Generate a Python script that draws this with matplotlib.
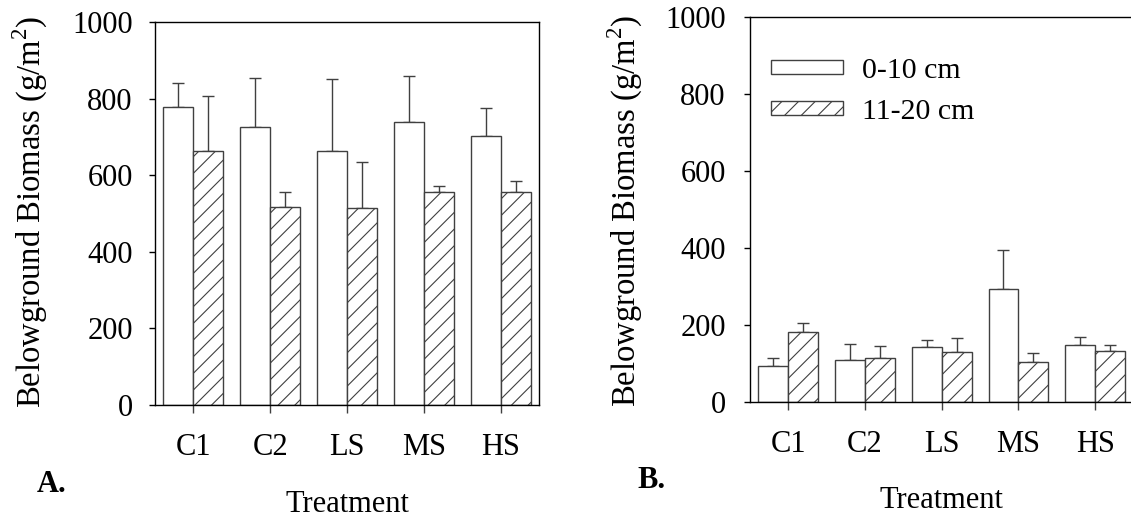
import numpy as np
import matplotlib
matplotlib.use("Agg")
import matplotlib.pyplot as plt

plt.rcParams['font.family'] = ['Liberation Serif', 'DejaVu Serif']
plt.rcParams['mathtext.fontset'] = 'custom'
plt.rcParams['mathtext.rm'] = 'Liberation Serif'
plt.rcParams['hatch.linewidth'] = 0.8
plt.rcParams['hatch.color'] = 'black'

# data
treatments = ['C1', 'C2', 'LS', 'MS', 'HS']
depths = ['0-10 cm', '11-20 cm']

a_top = [778, 726, 662, 738, 703]
a_top_err = [63, 128, 190, 121, 73]
a_sub = [662, 518, 514, 555, 555]
a_sub_err = [144, 39, 120, 18, 29]

b_top = [94, 109, 142, 294, 149]
b_top_err = [19, 42, 20, 101, 19]
b_sub = [181, 114, 129, 104, 133]
b_sub_err = [23, 32, 38, 23, 14]

W, H = 1131, 525
fig = plt.figure(figsize=(W / 100, H / 100), dpi=100)
edge = '#404040'
fs = 22


def panel(rect, top, top_err, sub, sub_err, ypad):
    ax = fig.add_axes(rect)
    x = np.arange(len(treatments))
    w = 0.39
    ax.bar(x - w / 2, top, w, color='white', edgecolor=edge, linewidth=1.0,
           label=depths[0], zorder=2)
    ax.bar(x + w / 2, sub, w, color='white', edgecolor=edge, linewidth=1.0,
           hatch='//', label=depths[1], zorder=2)
    ax.errorbar(x - w / 2, top, yerr=[np.zeros(len(x)), top_err], fmt='none',
                ecolor=edge, elinewidth=1.0, capsize=4, capthick=1.0, zorder=1)
    ax.errorbar(x + w / 2, sub, yerr=[np.zeros(len(x)), sub_err], fmt='none',
                ecolor=edge, elinewidth=1.0, capsize=4, capthick=1.0, zorder=1)
    ax.set_xlim(-0.5, 4.5)
    ax.set_ylim(0, 1000)
    ax.set_yticks([0, 200, 400, 600, 800, 1000])
    ax.set_xticks(x)
    ax.set_xticklabels(treatments)
    ax.tick_params(axis='y', direction='out', length=4, width=1, pad=ypad, labelsize=fs)
    ax.tick_params(axis='x', direction='out', length=6, width=1, pad=14.5, labelsize=fs,
                   color=edge)
    for s in ax.spines.values():
        s.set_linewidth(1.0)
    return ax


ax_a = panel([155 / W, 120 / H, 384 / W, 383 / H], a_top, a_top_err, a_sub, a_sub_err, 12)
ax_b = panel([750 / W, 123 / H, 383.5 / W, 385 / H], b_top, b_top_err, b_sub, b_sub_err, 13.5)

ax_b.legend(loc='upper left', bbox_to_anchor=(0.055, 0.894), frameon=False,
            fontsize=21.5, handlelength=2.42, handleheight=0.31, handletextpad=0.62,
            labelspacing=0.5, borderpad=0, borderaxespad=0)

ylab = 'Belowground Biomass (g/m$^\\mathregular{2}$)'
fig.text(30 / W, 1 - 212 / H, ylab, rotation=90, ha='center', va='center', fontsize=23.5)
fig.text(625 / W, 1 - 211 / H, ylab, rotation=90, ha='center', va='center', fontsize=23.5)
fig.text(347 / W, 1 - 504 / H, 'Treatment', ha='center', va='center', fontsize=fs)
fig.text(941 / W, 1 - 500 / H, 'Treatment', ha='center', va='center', fontsize=fs)
fig.text(37 / W, 1 - 484 / H, 'A.', ha='left', va='center', fontsize=fs, fontweight='bold')
fig.text(637 / W, 1 - 480 / H, 'B.', ha='left', va='center', fontsize=fs, fontweight='bold')

fig.savefig('out.png', dpi=100)
